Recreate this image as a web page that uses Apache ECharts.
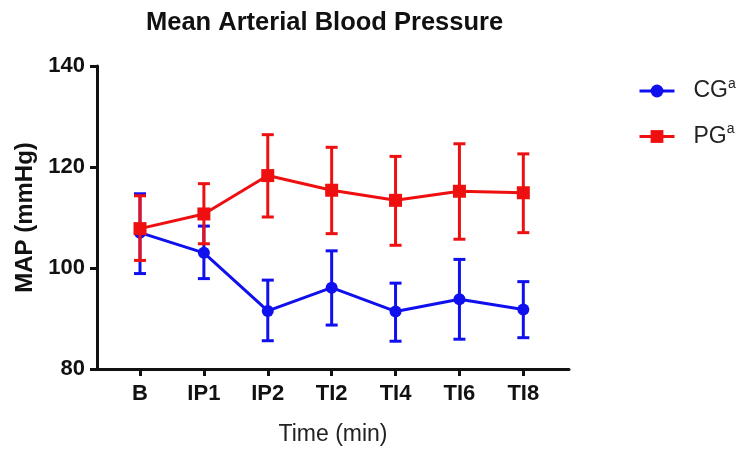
<!DOCTYPE html>
<html>
<head>
<meta charset="utf-8">
<script src="https://cdn.jsdelivr.net/npm/echarts@6/dist/echarts.min.js"></script>
<style>html,body{margin:0;padding:0;background:#fff;}#c{width:740px;height:451px;}</style>
</head>
<body>
<div id="c"></div>
<script>
var categories = ['B', 'IP1', 'IP2', 'TI2', 'TI4', 'TI6', 'TI8'];
var yTicks = [80, 100, 120, 140];
var cgMean = [107.0, 103.0, 91.5, 96.1, 91.4, 93.8, 91.8];
var cgLow  = [98.9, 97.9, 85.6, 88.7, 85.5, 85.9, 86.2];
var cgHigh = [114.7, 108.3, 97.6, 103.4, 97.0, 101.7, 97.3];
var pgMean = [107.8, 110.7, 118.3, 115.4, 113.4, 115.2, 114.9];
var pgLow  = [101.5, 104.8, 110.1, 106.8, 104.5, 105.7, 107.0];
var pgHigh = [114.3, 116.7, 126.4, 123.9, 122.1, 124.6, 122.6];

var BLUE = '#1010ee';
var RED = '#ee1010';
var FONT = 'Liberation Sans, Arial, sans-serif';

function pts(mean) { return mean.map(function (v, i) { return [i, v]; }); }
function errs(lo, hi) { return lo.map(function (v, i) { return [i, v, hi[i]]; }); }
function errRender(color) {
  return function (params, api) {
    var x = api.value(0);
    var lo = api.coord([x, api.value(1)]);
    var hi = api.coord([x, api.value(2)]);
    var w = 6;
    var st = { stroke: color, lineWidth: 3 };
    return { type: 'group', children: [
      { type: 'line', shape: { x1: lo[0], y1: lo[1], x2: hi[0], y2: hi[1] }, style: st },
      { type: 'line', shape: { x1: lo[0] - w, y1: lo[1], x2: lo[0] + w, y2: lo[1] }, style: st },
      { type: 'line', shape: { x1: hi[0] - w, y1: hi[1], x2: hi[0] + w, y2: hi[1] }, style: st }
    ] };
  };
}
var idx = categories.map(function (c, i) { return i; });

var chart = echarts.init(document.getElementById('c'));
chart.setOption({
  animation: false,
  backgroundColor: '#fff',
  title: {
    text: 'Mean Arterial Blood Pressure',
    left: 141, top: 5,
    textStyle: { fontFamily: FONT, fontWeight: 'bold', fontSize: 25.5, color: '#111' }
  },
  legend: {
    orient: 'vertical',
    left: 638, top: 77, padding: 0,
    itemWidth: 35, itemHeight: 16, itemGap: 20,
    lineStyle: { width: 3 },
    data: ['CG', 'PG'],
    formatter: function (n) { return '{n|' + n + '}{s|a}'; },
    textStyle: {
      fontFamily: FONT, color: '#222',
      rich: {
        n: { fontSize: 23, fontFamily: FONT, color: '#222', lineHeight: 28, padding: [0, 0, 0, 14] },
        s: { fontSize: 14, fontFamily: FONT, color: '#222', verticalAlign: 'top', lineHeight: 28 }
      }
    }
  },
  grid: { left: 97, right: 171, top: 66, bottom: 82 },
  xAxis: {
    type: 'value',
    min: -0.673, max: 6.715,
    name: 'Time (min)', nameLocation: 'middle', nameGap: 54,
    nameTextStyle: { fontFamily: FONT, fontSize: 23, color: '#222' },
    axisLine: { onZero: false, lineStyle: { color: '#111', width: 3 } },
    axisTick: { show: true, length: 7, customValues: idx, lineStyle: { color: '#111', width: 3 } },
    axisLabel: {
      customValues: idx, margin: 14,
      formatter: function (v) { return categories[Math.round(v)]; },
      fontFamily: FONT, fontWeight: 'bold', fontSize: 22, color: '#111'
    },
    splitLine: { show: false }
  },
  yAxis: {
    type: 'value',
    min: yTicks[0], max: yTicks[yTicks.length - 1], interval: 20,
    name: 'MAP (mmHg)', nameLocation: 'middle', nameGap: 58,
    nameTextStyle: { fontFamily: FONT, fontWeight: 'bold', fontSize: 24, color: '#111' },
    axisLine: { show: true, onZero: false, lineStyle: { color: '#111', width: 3 } },
    axisTick: { show: true, length: 7, lineStyle: { color: '#111', width: 3 } },
    axisLabel: { margin: 12, fontFamily: FONT, fontWeight: 'bold', fontSize: 22, color: '#111' },
    splitLine: { show: false }
  },
  series: [
    { name: 'CG_err', type: 'custom', renderItem: errRender(BLUE), data: errs(cgLow, cgHigh), encode: { x: 0, y: [1, 2] }, z: 2 },
    { name: 'CG', type: 'line', data: pts(cgMean), symbol: 'circle', symbolSize: 12,
      lineStyle: { color: BLUE, width: 3 }, itemStyle: { color: BLUE }, z: 3 },
    { name: 'PG_err', type: 'custom', renderItem: errRender(RED), data: errs(pgLow, pgHigh), encode: { x: 0, y: [1, 2] }, z: 4 },
    { name: 'PG', type: 'line', data: pts(pgMean), symbol: 'rect', symbolSize: 13,
      lineStyle: { color: RED, width: 3 }, itemStyle: { color: RED }, z: 5 }
  ]
});
</script>
</body>
</html>
